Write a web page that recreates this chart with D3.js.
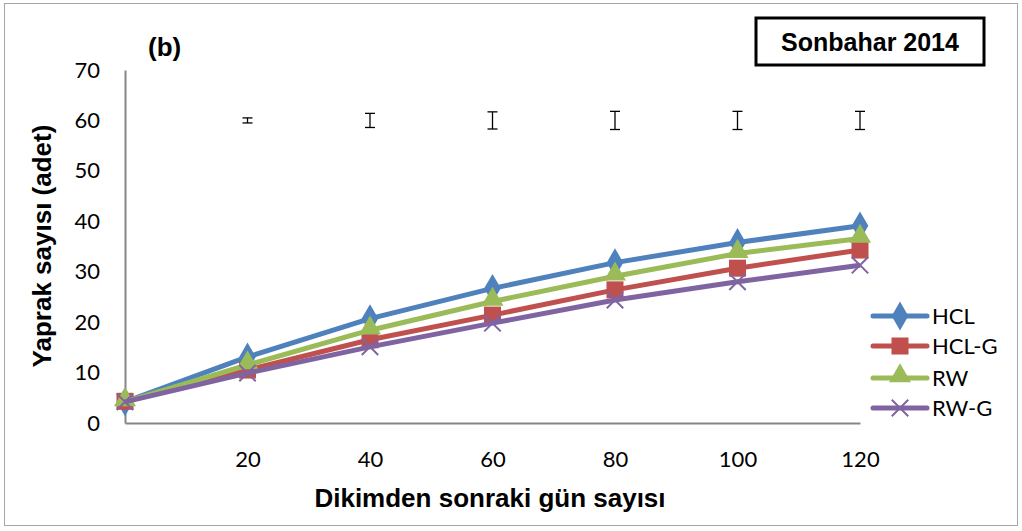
<!DOCTYPE html>
<html><head><meta charset="utf-8">
<script src="https://cdn.jsdelivr.net/npm/d3@7"></script>
<style>body{margin:0;background:#fff}svg{display:block}</style>
</head><body>
<script>
const days = [0, 20, 40, 60, 80, 100, 120];
const xTicks = [20, 40, 60, 80, 100, 120];
const yTicks = [0, 10, 20, 30, 40, 50, 60, 70];
const seriesNames = ["HCL", "HCL-G", "RW", "RW-G"];
const hcl  = [4.2, 13.1, 20.7, 26.7, 31.8, 35.8, 39.1];
const hclG = [4.3, 10.5, 16.5, 21.4, 26.4, 30.7, 34.3];
const rw   = [4.2, 11.5, 18.4, 24.1, 29.1, 33.6, 36.6];
const rwG  = [4.2, 9.9, 15.1, 19.8, 24.4, 28.0, 31.3];
const errDays = [20, 40, 60, 80, 100, 120];
const errCenter = [60, 60, 60, 60, 60, 60];
const errHalf = [0.5, 1.4, 1.7, 1.8, 1.8, 1.8];

const W = 1022, H = 531;
const svg = d3.select("body").append("svg").attr("width", W).attr("height", H);
svg.append("rect").attr("x", 4.5).attr("y", 3.5).attr("width", 1013).attr("height", 522)
  .attr("fill", "#fff").attr("stroke", "#a6a6a6").attr("stroke-width", 1);

const x = d3.scaleLinear().domain([0, 120]).range([125, 860]);
const y = d3.scaleLinear().domain([0, 70]).range([423, 70]);

const font = "Lato, 'Open Sans', sans-serif";
const bold = "'Liberation Sans', Arial, sans-serif";
// axes
const yAxis = svg.append("g").attr("transform", `translate(${x(0)},0)`)
  .call(d3.axisLeft(y).tickValues(yTicks).tickSize(0).tickPadding(25));
const xAxis = svg.append("g").attr("transform", `translate(0,${y(0)})`)
  .call(d3.axisBottom(x).tickValues(xTicks).tickSize(0).tickPadding(28));
[yAxis, xAxis].forEach(g => {
  g.select(".domain").attr("stroke", "#868686").attr("stroke-width", 2);
  g.selectAll("text").attr("font-family", font).attr("font-size", 22).attr("fill", "#000");
});

// error bars
const eb = svg.append("g").attr("stroke", "#000").attr("stroke-width", 1.3);
errDays.forEach((d, i) => {
  const cx = x(d), y1 = y(errCenter[i] + errHalf[i]), y2 = y(errCenter[i] - errHalf[i]);
  eb.append("line").attr("x1", cx).attr("x2", cx).attr("y1", y1).attr("y2", y2);
  eb.append("line").attr("x1", cx - 5).attr("x2", cx + 5).attr("y1", y1).attr("y2", y1);
  eb.append("line").attr("x1", cx - 5).attr("x2", cx + 5).attr("y1", y2).attr("y2", y2);
});

const colors = ["#4F81BD", "#C0504D", "#9BBB59", "#8064A2"];
const dataSets = [hcl, hclG, rw, rwG];
const symbols = [d3.symbolDiamond, d3.symbolSquare, d3.symbolTriangle, d3.symbolX];
const sizes = [240, 290, 210, 270];
const line = d3.line().x((d, i) => x(days[i])).y(d => y(d));

function marker(g, k, cx, cy) {
  const s = sizes[k];
  if (k === 3) {
    const r = Math.sqrt(s) / 2;
    g.append("path").attr("d", `M${cx - r},${cy - r}L${cx + r},${cy + r}M${cx - r},${cy + r}L${cx + r},${cy - r}`)
      .attr("stroke", colors[k]).attr("stroke-width", 2).attr("fill", "none");
  } else {
    g.append("path").attr("d", d3.symbol().type(symbols[k]).size(s)())
      .attr("transform", `translate(${cx},${cy - (k === 2 ? 2 : 0)})`).attr("fill", colors[k]);
  }
}

[0, 1, 2, 3].forEach(k => {
  const g = svg.append("g");
  g.append("path").datum(dataSets[k]).attr("d", line).attr("fill", "none")
    .attr("stroke", colors[k]).attr("stroke-width", 5).attr("stroke-linejoin", "round");
  dataSets[k].forEach((v, i) => marker(g, k, x(days[i]), y(v)));
});

// legend
const lg = svg.append("g");
const rows = [316, 346, 378, 408];
seriesNames.forEach((n, k) => {
  const ly = rows[k];
  lg.append("line").attr("x1", 873).attr("x2", 927).attr("y1", ly).attr("y2", ly)
    .attr("stroke", colors[k]).attr("stroke-width", 5).attr("stroke-linecap", "round");
  marker(lg, k, 900, ly);
  lg.append("text").attr("x", 932).attr("y", ly + 8).text(n)
    .attr("font-family", font).attr("font-size", 22).attr("fill", "#000");
});

// titles
svg.append("text").attr("x", 490).attr("y", 507).attr("text-anchor", "middle")
  .attr("font-family", bold).attr("font-weight", "bold").attr("font-size", 26)
  .text("Dikimden sonraki gün sayısı");
svg.append("text").attr("transform", "translate(51,246) rotate(-90)").attr("text-anchor", "middle")
  .attr("font-family", bold).attr("font-weight", "bold").attr("font-size", 26)
  .text("Yaprak sayısı (adet)");
svg.append("text").attr("x", 148).attr("y", 56)
  .attr("font-family", bold).attr("font-weight", "bold").attr("font-size", 26)
  .text("(b)");
svg.append("rect").attr("x", 756).attr("y", 18).attr("width", 228).attr("height", 47)
  .attr("fill", "#fff").attr("stroke", "#000").attr("stroke-width", 3);
svg.append("text").attr("x", 870).attr("y", 51).attr("text-anchor", "middle")
  .attr("font-family", bold).attr("font-weight", "bold").attr("font-size", 25)
  .text("Sonbahar 2014");
</script>
</body></html>
